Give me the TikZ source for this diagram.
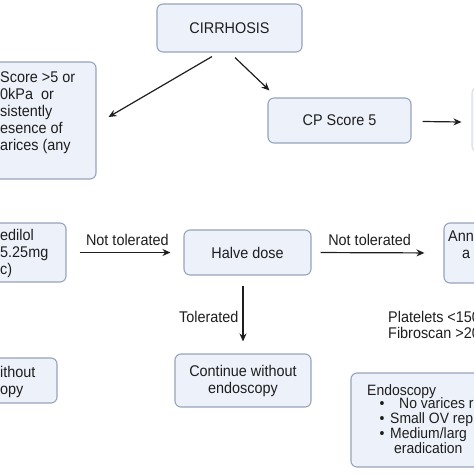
\documentclass[tikz,border=0pt]{standalone}
\usepackage{fontspec}
\setmainfont[FakeStretch=0.93]{Liberation Sans}
\usetikzlibrary{arrows.meta,calc}
\definecolor{boxfill}{HTML}{EDF2FA}
\definecolor{boxline}{HTML}{97A3BC}
\definecolor{ink}{HTML}{1E1E1E}
\begin{document}
\begin{tikzpicture}[x=1pt,y=-1pt,
  box/.style={draw=boxline,fill=boxfill,rounded corners=6pt,line width=1.1pt,inner sep=0pt,
    font=\fontsize{15.5}{17}\selectfont,text=ink,align=center},
  faintbox/.style={box,draw=boxline!35,fill=boxfill!50},
  txt/.style={font=\fontsize{15.5}{17}\selectfont,text=ink,inner sep=0pt,anchor=base west},
  etxt/.style={txt,font=\fontsize{15}{15}\selectfont},
  lbl/.style={font=\fontsize{15.5}{17}\selectfont,text=ink,inner sep=0pt},
  arr/.style={draw=ink,line width=1.2pt,-{Stealth[length=8pt,width=7pt]}}]
\useasboundingbox (0,0) rectangle (474,474);
\clip (0,0) rectangle (474,474);
% boxes
\node[box,minimum width=145pt,minimum height=48pt] (cirr) at (229.5,28) {CIRRHOSIS};
\node[box,minimum width=156pt,minimum height=117pt] (left) at (18,120.5) {};
\node[box,minimum width=143pt,minimum height=45pt] (cp5) at (339.5,120.5) {CP Score 5};
\node[faintbox,minimum width=88pt,minimum height=65pt] (rtop) at (516,119.5) {};
\node[box,minimum width=126pt,minimum height=59pt] (carv) at (3,252.5) {};
\node[box,minimum width=127pt,minimum height=45pt] (halve) at (247.5,252.5) {Halve dose};
\node[box,minimum width=116pt,minimum height=60pt] (annual) at (502,253) {};
\node[box,minimum width=117pt,minimum height=45pt] (lowleft) at (-1.5,380.5) {};
\node[box,minimum width=136pt,minimum height=53pt] (cont) at (243,380.5) {Continue without\\endoscopy};
\node[box,minimum width=209pt,minimum height=94pt] (endo) at (455.5,420) {};
% texts in cut boxes
\node[txt] (l1) at (0,82) {Score >5 or};
\node[txt] (l2) at (0,99) {0kPa~~or};
\node[txt] (l3) at (0,116) {sistently};
\node[txt] (l4) at (0,133) {esence of};
\node[txt] (l5) at (0,150) {arices (any};
\node[txt] (c1) at (0,240) {edilol};
\node[txt] (c2) at (0,257) {5.25mg};
\node[txt] (c3) at (0,274) {c)};
\node[txt] (w1) at (0,377) {ithout};
\node[txt] (w2) at (0,394) {opy};
\node[txt] (a1) at (448,241) {Ann};
\node[txt] (a2) at (462,258) {a};
\node[txt] (p1) at (388,322) {Platelets <150};
\node[txt] (p2) at (388,338) {Fibroscan >20};
\node[etxt] (e0) at (367,395) {Endoscopy};
\node[etxt] (b1) at (379.5,408) {•};
\node[etxt] (b2) at (379.5,423) {•};
\node[etxt] (b3) at (379.5,438) {•};
\node[etxt] (e1) at (399,408) {No varices r};
\node[etxt] (e2) at (390,423) {Small OV rep};
\node[etxt] (e3) at (390,438) {Medium/larg};
\node[etxt] (e4) at (394,453) {eradication};
% connectors
\draw[arr] ([shift={(-17.5,4)}]cirr.south) -- ([shift={(12,-3.5)}]left.east);
\draw[arr] ([shift={(5.5,5)}]cirr.south) -- ([shift={(2,-7)}]cp5.north west);
\draw[arr] ([shift={(11,1)}]cp5.east) -- ([shift={(-10,2.5)}]rtop.west);
\draw[arr,shorten <=13pt,shorten >=13pt] (carv.east) -- node[lbl,above=6pt,pos=0.52] (nt1) {Not tolerated} (halve.west);
\draw[arr,shorten <=9pt,shorten >=19pt] (halve.east) -- node[lbl,above=6pt,pos=0.44] (nt2) {Not tolerated} (annual.west);
\draw[arr,shorten <=10pt,shorten >=12pt] ([xshift=-4.5pt]halve.south) -- node[lbl,left=4pt,pos=0.53] (tol) {Tolerated} (cont.north);
\end{tikzpicture}
\end{document}
